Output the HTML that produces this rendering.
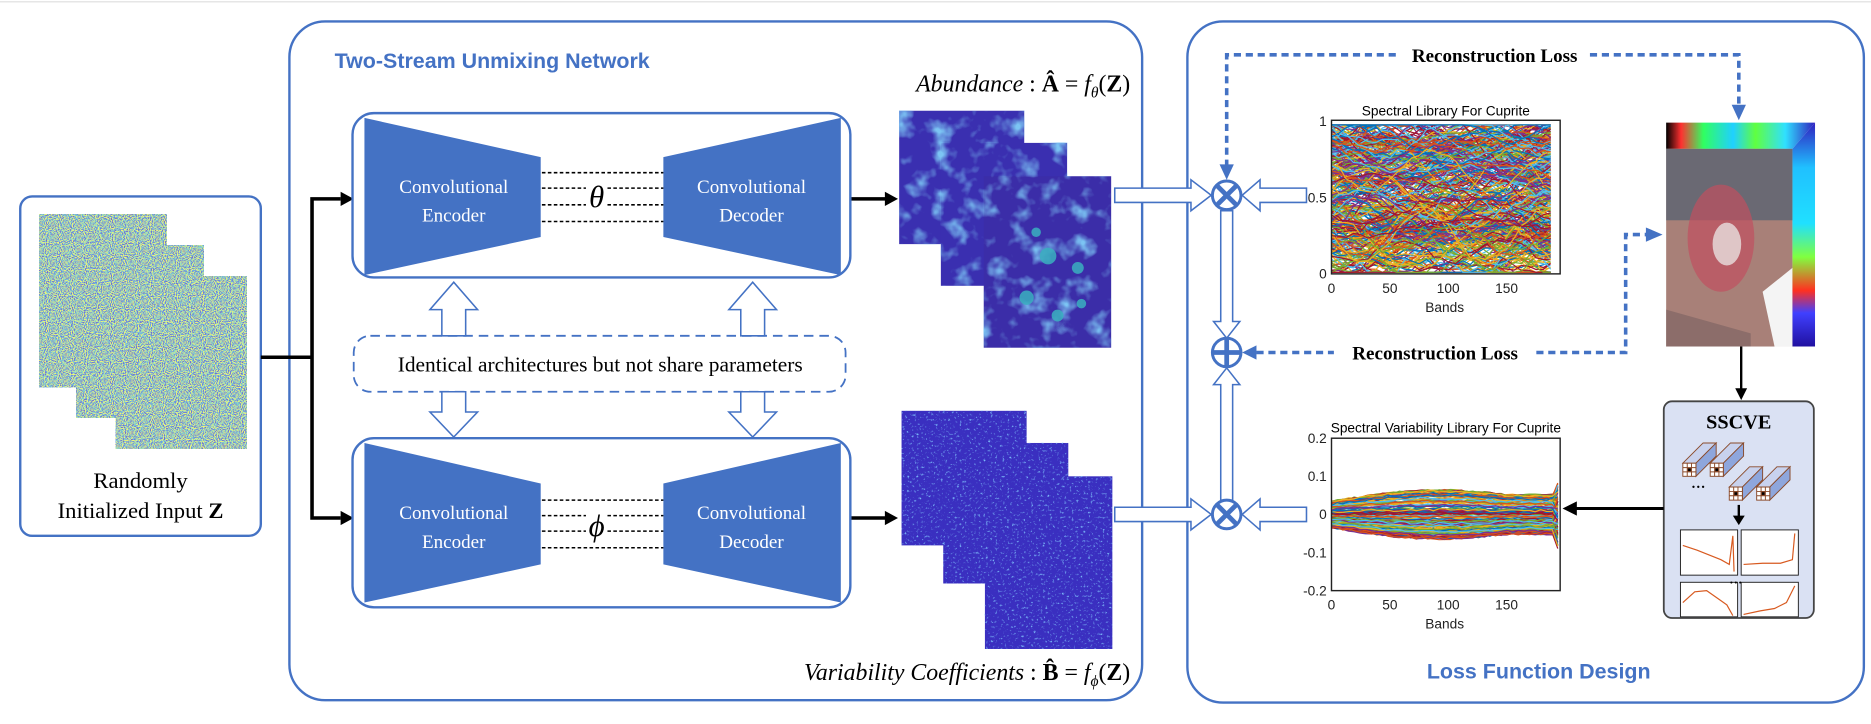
<!DOCTYPE html>
<html><head><meta charset="utf-8"><style>
html,body{margin:0;padding:0;background:#fff;}
svg{display:block;}
.ser{font-family:"Liberation Serif",serif;}
.san{font-family:"Liberation Sans",sans-serif;}
</style></head><body>
<svg id="s" width="1871" height="724" viewBox="0 0 1571 608" preserveAspectRatio="none" xmlns="http://www.w3.org/2000/svg">
<defs>
<filter id="noise" x="0" y="0" width="100%" height="100%">
<feTurbulence type="fractalNoise" baseFrequency="1.1" numOctaves="1" seed="3"/>
<feColorMatrix type="matrix" values="3.5 0 0 0 -1.25  3.5 0 0 0 -1.25  3.5 0 0 0 -1.25  0 0 0 0 1"/>
<feComponentTransfer>
<feFuncR type="table" tableValues="0.2 0.15 0.2 0.6 0.95"/>
<feFuncG type="table" tableValues="0.15 0.35 0.65 0.85 0.9"/>
<feFuncB type="table" tableValues="0.55 0.85 0.6 0.3 0.15"/>
<feFuncA type="table" tableValues="1 1"/>
</feComponentTransfer>
</filter>
<filter id="abn" x="0" y="0" width="100%" height="100%">
<feTurbulence type="fractalNoise" baseFrequency="0.06" numOctaves="3" seed="7"/>
<feColorMatrix type="matrix" values="0 0 0 0 0.2  0 0 0 0 0.55  0 0 0 0 0.9  3 0 0 0 -1.5"/>
</filter>
<filter id="abn2" x="0" y="0" width="100%" height="100%">
<feTurbulence type="fractalNoise" baseFrequency="0.5" numOctaves="2" seed="11"/>
<feColorMatrix type="matrix" values="0 0 0 0 0.2  0 0 0 0 0.5  0 0 0 0 0.95  4 0 0 0 -2.4"/>
</filter>
<linearGradient id="jet" x1="0" y1="0" x2="1" y2="0">
<stop offset="0" stop-color="#000"/><stop offset="0.1" stop-color="#ff3030"/><stop offset="0.25" stop-color="#30ff60"/><stop offset="0.45" stop-color="#20d0ff"/><stop offset="0.6" stop-color="#60ff40"/><stop offset="0.8" stop-color="#30e0ff"/><stop offset="1" stop-color="#3020c0"/>
</linearGradient>
<linearGradient id="jetv" x1="0" y1="0" x2="0" y2="1">
<stop offset="0" stop-color="#3020c0"/><stop offset="0.2" stop-color="#20c0ff"/><stop offset="0.45" stop-color="#20e0ff"/><stop offset="0.6" stop-color="#80ff40"/><stop offset="0.75" stop-color="#ff3020"/><stop offset="0.85" stop-color="#4040ff"/><stop offset="1" stop-color="#2010a0"/>
</linearGradient>
</defs>
<line x1="0" y1="1.5" x2="1571" y2="1.5" stroke="#ddd" stroke-width="1"/>

<!-- input box -->
<rect x="17" y="165" width="202" height="285" rx="10" fill="#fff" stroke="#4472c4" stroke-width="2"/>
<rect x="33" y="180" width="107" height="145" fill="#7aa" filter="url(#noise)"/>
<rect x="64" y="206" width="107" height="145" fill="#7aa" filter="url(#noise)"/>
<rect x="97" y="232" width="110" height="145" fill="#7aa" filter="url(#noise)"/>
<text class="ser" x="118" y="410" font-size="19" text-anchor="middle">Randomly</text>
<text class="ser" x="118" y="435" font-size="19" text-anchor="middle">Initialized Input <tspan font-weight="bold">Z</tspan></text>

<!-- left panel -->
<rect x="243" y="18" width="716" height="570" rx="30" fill="none" stroke="#4472c4" stroke-width="2"/>
<text class="san" x="281" y="57" font-size="18" font-weight="bold" fill="#4472c4">Two-Stream Unmixing Network</text>

<g stroke="#000" stroke-width="3" fill="none">
<polyline points="219,300 262,300"/>
<polyline points="286,167 262,167 262,435 286,435"/>
<line x1="714" y1="167" x2="744" y2="167"/>
<line x1="714" y1="435" x2="744" y2="435"/>
</g>
<polygon points="286,161 297,167 286,173" fill="#000"/>
<polygon points="286,429 297,435 286,441" fill="#000"/>
<polygon points="743,161 754,167 743,173" fill="#000"/>
<polygon points="743,429 754,435 743,441" fill="#000"/>

<!-- top network box -->
<rect x="296" y="95" width="418" height="138" rx="18" fill="#fff" stroke="#4472c4" stroke-width="2"/>
<polygon points="306,99 454,132 454,199 306,231" fill="#4472c4"/>
<polygon points="706,99 557,132 557,199 706,231" fill="#4472c4"/>
<g stroke="#000" stroke-width="1.3" stroke-dasharray="3,2">
<line x1="455" y1="145" x2="557" y2="145"/><line x1="455" y1="158" x2="557" y2="158"/><line x1="455" y1="172" x2="557" y2="172"/><line x1="455" y1="186" x2="557" y2="186"/>
</g>
<rect x="492" y="150" width="18" height="28" fill="#fff"/>
<text class="ser" x="501" y="174" font-size="26" font-style="italic" text-anchor="middle">θ</text>
<text class="ser" x="381" y="162" font-size="16" fill="#fff" text-anchor="middle">Convolutional</text>
<text class="ser" x="381" y="186" font-size="16" fill="#fff" text-anchor="middle">Encoder</text>
<text class="ser" x="631" y="162" font-size="16" fill="#fff" text-anchor="middle">Convolutional</text>
<text class="ser" x="631" y="186" font-size="16" fill="#fff" text-anchor="middle">Decoder</text>

<!-- bottom network box -->
<rect x="296" y="368" width="418" height="142" rx="18" fill="#fff" stroke="#4472c4" stroke-width="2"/>
<polygon points="306,372 454,406 454,474 306,506" fill="#4472c4"/>
<polygon points="706,372 557,406 557,474 706,506" fill="#4472c4"/>
<g stroke="#000" stroke-width="1.3" stroke-dasharray="3,2">
<line x1="455" y1="420" x2="557" y2="420"/><line x1="455" y1="433" x2="557" y2="433"/><line x1="455" y1="446" x2="557" y2="446"/><line x1="455" y1="460" x2="557" y2="460"/>
</g>
<rect x="492" y="425" width="18" height="30" fill="#fff"/>
<text class="ser" x="501" y="450" font-size="26" font-style="italic" text-anchor="middle">ϕ</text>
<text class="ser" x="381" y="436" font-size="16" fill="#fff" text-anchor="middle">Convolutional</text>
<text class="ser" x="381" y="460" font-size="16" fill="#fff" text-anchor="middle">Encoder</text>
<text class="ser" x="631" y="436" font-size="16" fill="#fff" text-anchor="middle">Convolutional</text>
<text class="ser" x="631" y="460" font-size="16" fill="#fff" text-anchor="middle">Decoder</text>

<rect x="297" y="282" width="413" height="47" rx="14" fill="#fff" stroke="#4472c4" stroke-width="1.5" stroke-dasharray="8,5"/>
<text class="ser" x="504" y="312" font-size="18" text-anchor="middle">Identical architectures but not share parameters</text>

<g fill="#fff" stroke="#4472c4" stroke-width="1.3">
<polygon points="371,282 371,260 361,260 381,237 401,260 391,260 391,282"/>
<polygon points="622,282 622,260 612,260 632,237 652,260 642,260 642,282"/>
<polygon points="371,329 371,346 361,346 381,367 401,346 391,346 391,329"/>
<polygon points="622,329 622,346 612,346 632,367 652,346 642,346 642,329"/>
</g>

<!-- abundance images -->
<rect x="755" y="93" width="105" height="112" fill="#3a2fb0"/>
<rect x="755" y="93" width="105" height="112" fill="#333" filter="url(#abn)"/>
<rect x="790" y="120" width="106" height="120" fill="#3a2fb0"/>
<rect x="790" y="120" width="106" height="120" fill="#333" filter="url(#abn)"/>
<rect x="826" y="148" width="107" height="144" fill="#3b2da8"/>
<rect x="826" y="148" width="107" height="144" fill="#333" filter="url(#abn)"/>
<g fill="#3ab0c0" opacity="0.85"><circle cx="880" cy="215" r="7"/><circle cx="905" cy="225" r="5"/><circle cx="862" cy="250" r="6"/><circle cx="888" cy="265" r="5"/><circle cx="908" cy="255" r="4"/><circle cx="870" cy="195" r="4"/></g>

<!-- variability images -->
<rect x="757" y="345" width="105" height="113" fill="#3a2fc0"/>
<rect x="757" y="345" width="105" height="113" fill="#333" filter="url(#abn2)"/>
<rect x="792" y="372" width="105" height="118" fill="#3a2fc0"/>
<rect x="792" y="372" width="105" height="118" fill="#333" filter="url(#abn2)"/>
<rect x="827" y="400" width="107" height="145" fill="#3a2fc0"/>
<rect x="827" y="400" width="107" height="145" fill="#333" filter="url(#abn2)"/>

<text class="ser" x="949" y="77" font-size="20" text-anchor="end"><tspan font-style="italic">Abundance</tspan> : <tspan font-weight="bold">Â</tspan> = <tspan font-style="italic">f</tspan><tspan font-style="italic" font-size="13" dy="5">θ</tspan><tspan dy="-5">(</tspan><tspan font-weight="bold">Z</tspan>)</text>
<text class="ser" x="949" y="571" font-size="20" text-anchor="end"><tspan font-style="italic">Variability Coefficients</tspan> : <tspan font-weight="bold">B̂</tspan> = <tspan font-style="italic">f</tspan><tspan font-style="italic" font-size="13" dy="5">ϕ</tspan><tspan dy="-5">(</tspan><tspan font-weight="bold">Z</tspan>)</text>

<!-- right panel -->
<rect x="997" y="18" width="568" height="572" rx="30" fill="none" stroke="#4472c4" stroke-width="2"/>
<text class="san" x="1292" y="570" font-size="18" font-weight="bold" fill="#4472c4" text-anchor="middle">Loss Function Design</text>

<g fill="#fff" stroke="#4472c4" stroke-width="1.3">
<polygon points="936,158 1000,158 1000,151 1017,164 1000,177 1000,170 936,170"/>
<polygon points="1097,158 1058,158 1058,151 1043,164 1058,177 1058,170 1097,170"/>
<polygon points="936,426 1000,426 1000,419 1017,432 1000,445 1000,438 936,438"/>
<polygon points="1097,426 1058,426 1058,419 1043,432 1058,445 1058,438 1097,438"/>
<polygon points="1025,177 1025,270 1019,270 1030,284 1041,270 1035,270 1035,177"/>
<polygon points="1025,420 1025,323 1019,323 1030,309 1041,323 1035,323 1035,420"/>
</g>
<g stroke="#4472c4" stroke-width="2.5" fill="#fff">
<circle cx="1030" cy="164" r="12"/><circle cx="1030" cy="296" r="12"/><circle cx="1030" cy="432" r="12"/>
</g>
<g stroke="#4472c4" stroke-width="4">
<line x1="1022" y1="156" x2="1038" y2="172"/><line x1="1038" y1="156" x2="1022" y2="172"/>
<line x1="1022" y1="424" x2="1038" y2="440"/><line x1="1038" y1="424" x2="1022" y2="440"/>
<line x1="1018" y1="296" x2="1042" y2="296"/><line x1="1030" y1="284" x2="1030" y2="308"/>
</g>

<g stroke="#4472c4" stroke-width="3" fill="none" stroke-dasharray="6,4">
<polyline points="1030,140 1030,46 1175,46"/>
<polyline points="1335,46 1460,46 1460,90"/>
<polyline points="1055,296 1120,296"/>
<polyline points="1290,296 1365,296 1365,197 1383,197"/>
</g>
<g fill="#4472c4">
<polygon points="1024,138 1036,138 1030,151"/>
<polygon points="1454,88 1466,88 1460,101"/>
<polygon points="1055,290 1055,302 1043,296"/>
<polygon points="1382,191 1382,203 1396,197"/>
</g>
<text class="ser" x="1255" y="52" font-size="16" font-weight="bold" text-anchor="middle">Reconstruction Loss</text>
<text class="ser" x="1205" y="302" font-size="16" font-weight="bold" text-anchor="middle">Reconstruction Loss</text>

<g id="p1"></g>
<rect x="1118" y="101" width="192" height="129" fill="none" stroke="#222" stroke-width="1.2"/>
<text class="san" x="1214" y="97" font-size="11.5" text-anchor="middle">Spectral Library For Cuprite</text>
<g class="san" font-size="11.5" fill="#222">
<text x="1114" y="106" text-anchor="end">1</text>
<text x="1114" y="170" text-anchor="end">0.5</text>
<text x="1114" y="234" text-anchor="end">0</text>
<text x="1118" y="246" text-anchor="middle">0</text>
<text x="1167" y="246" text-anchor="middle">50</text>
<text x="1216" y="246" text-anchor="middle">100</text>
<text x="1265" y="246" text-anchor="middle">150</text>
<text x="1213" y="262" text-anchor="middle">Bands</text>
</g>

<g id="p2"></g>
<rect x="1118" y="368" width="192" height="128" fill="none" stroke="#222" stroke-width="1.2"/>
<text class="san" x="1214" y="363" font-size="11.5" text-anchor="middle">Spectral Variability Library For Cuprite</text>
<g class="san" font-size="11.5" fill="#222">
<text x="1114" y="372" text-anchor="end">0.2</text>
<text x="1114" y="404" text-anchor="end">0.1</text>
<text x="1114" y="436" text-anchor="end">0</text>
<text x="1114" y="468" text-anchor="end">-0.1</text>
<text x="1114" y="500" text-anchor="end">-0.2</text>
<text x="1118" y="512" text-anchor="middle">0</text>
<text x="1167" y="512" text-anchor="middle">50</text>
<text x="1216" y="512" text-anchor="middle">100</text>
<text x="1265" y="512" text-anchor="middle">150</text>
<text x="1213" y="528" text-anchor="middle">Bands</text>
</g>

<!-- cube -->
<polygon points="1399,103 1524,103 1505,125 1399,125" fill="url(#jet)"/>
<polygon points="1505,125 1524,103 1524,291 1505,291" fill="url(#jetv)"/>
<rect x="1399" y="125" width="106" height="166" fill="#a88078"/>
<rect x="1399" y="125" width="106" height="60" fill="#506070" opacity="0.7"/>
<ellipse cx="1445" cy="200" rx="28" ry="45" fill="#c05060" opacity="0.7"/>
<ellipse cx="1450" cy="205" rx="12" ry="18" fill="#e8e0e0" opacity="0.8"/>
<polygon points="1480,245 1505,225 1505,291 1490,291" fill="#f4f4f4"/>
<polygon points="1399,260 1470,280 1470,291 1399,291" fill="#7a6060" opacity="0.6"/>

<line x1="1462" y1="291" x2="1462" y2="327" stroke="#000" stroke-width="2"/>
<polygon points="1457,326 1467,326 1462,336" fill="#000"/>

<!-- SSCVE -->
<rect x="1397" y="337" width="126" height="182" rx="7" fill="#dae1f3" stroke="#444" stroke-width="1.5"/>
<text class="ser" x="1460" y="360" font-size="17" font-weight="bold" text-anchor="middle">SSCVE</text>
<g stroke="#8a4a2a" stroke-width="0.8" id="bars"></g>
<text x="1420" y="410" font-size="12" font-weight="bold" class="ser">…</text>
<line x1="1460" y1="424" x2="1460" y2="434" stroke="#000" stroke-width="2"/>
<polygon points="1455,433 1465,433 1460,441" fill="#000"/>
<g fill="#fff" stroke="#222" stroke-width="0.8">
<rect x="1411" y="445" width="48" height="38"/><rect x="1462" y="445" width="48" height="38"/>
<rect x="1411" y="489" width="48" height="29"/><rect x="1462" y="489" width="48" height="29"/>
</g>
<g fill="none" stroke="#d85a20" stroke-width="1">
<polyline points="1413,458 1425,462 1435,466 1445,470 1452,474 1455,450 1456,480"/>
<polyline points="1464,474 1480,473 1495,473 1505,470 1507,448"/>
<polyline points="1413,506 1423,497 1433,496 1443,503 1450,508 1455,517"/>
<polyline points="1464,516 1478,513 1490,511 1500,506 1507,492"/>
</g>
<text x="1452" y="490" font-size="11" font-weight="bold" class="ser">…</text>

<line x1="1397" y1="427" x2="1322" y2="427" stroke="#000" stroke-width="2.5"/>
<polygon points="1324,421 1324,433 1312,427" fill="#000"/>
</svg>
<script>
(function(){
var s=12345;function r(){s=(s*1103515245+12345)%2147483648;return s/2147483648;}
var NS="http://www.w3.org/2000/svg";
var cols=["#0072bd","#d95319","#edb120","#7e2f8e","#77ac30","#4dbeee","#a2142f"];
var p1=document.getElementById("p1");
var x0=1118,w=184;
for(var i=0;i<360;i++){
 var base=0.05+r()*0.88, amp=r()*0.3, ph=r()*6, fr=0.5+r()*2, pts=[];
 for(var k=0;k<=30;k++){
  var t=k/30; var v=base+amp*Math.sin(ph+fr*t*6)*0.6+(r()-0.5)*0.04;
  v=Math.max(0.01,Math.min(0.97,v));
  pts.push((x0+t*w).toFixed(1)+","+(230-v*129).toFixed(1));
 }
 var pl=document.createElementNS(NS,"polyline");
 pl.setAttribute("points",pts.join(" "));pl.setAttribute("fill","none");
 pl.setAttribute("stroke",cols[i%7]);pl.setAttribute("stroke-width","1");
 p1.appendChild(pl);
}
var p2=document.getElementById("p2");
for(var i=0;i<160;i++){
 var o=(r()-0.5)*2, pts=[];
 for(var k=0;k<=40;k++){
  var t=k/40; var env=0.035+0.03*Math.sin(Math.min(1,t*1.3)*Math.PI*0.8);
  var v=o*env+(r()-0.5)*0.006;
  if(t>0.98) v+= (r()-0.5)*0.1;
  pts.push((x0+t*190).toFixed(1)+","+(432-v*320).toFixed(1));
 }
 var pl=document.createElementNS(NS,"polyline");
 pl.setAttribute("points",pts.join(" "));pl.setAttribute("fill","none");
 pl.setAttribute("stroke",cols[i%7]);pl.setAttribute("stroke-width","1");
 p2.appendChild(pl);
}
var b=document.getElementById("bars");
function bar(x,y){
 var q=11,dx=17,dy=17;
 var h='<polygon points="'+x+','+y+' '+(x+dx)+','+(y-dy)+' '+(x+dx+q)+','+(y-dy)+' '+(x+q)+','+y+'" fill="#c8d2ee"/>';
 h+='<polygon points="'+(x+q)+','+y+' '+(x+q+dx)+','+(y-dy)+' '+(x+q+dx)+','+(y-dy+q)+' '+(x+q)+','+(y+q)+'" fill="#8ea6dc"/>';
 h+='<rect x="'+x+'" y="'+y+'" width="'+q+'" height="'+q+'" fill="#fff" stroke="#8a4a2a"/>';
 h+='<path d="M'+(x+3.7)+' '+y+'v'+q+'M'+(x+7.3)+' '+y+'v'+q+'M'+x+' '+(y+3.7)+'h'+q+'M'+x+' '+(y+7.3)+'h'+q+'" />';
 h+='<rect x="'+(x+4)+'" y="'+(y+4)+'" width="3" height="3" fill="#000"/>';
 b.insertAdjacentHTML("beforeend",h);
}
bar(1413,389);bar(1436,389);bar(1452,409);bar(1475,409);
})();
</script>
</body></html>
